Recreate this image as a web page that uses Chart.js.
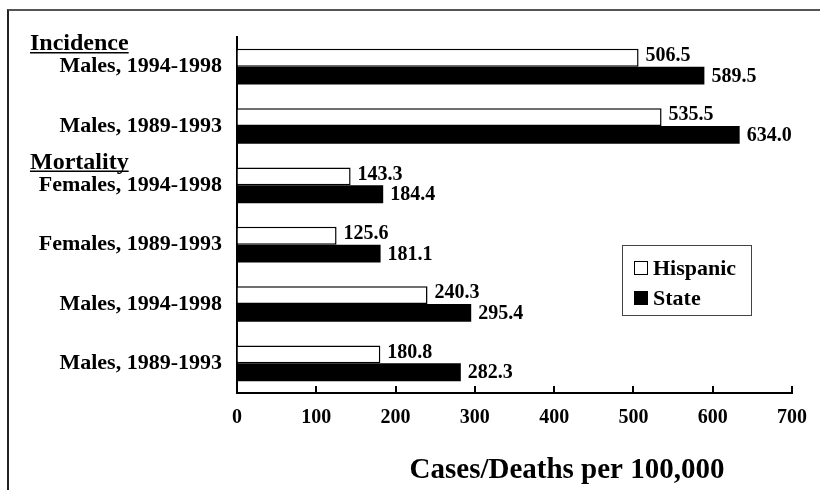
<!DOCTYPE html>
<html>
<head>
<meta charset="utf-8">
<script src="https://cdn.jsdelivr.net/npm/chart.js@4/dist/chart.umd.min.js"></script>
<style>
  body { margin: 0; background: #fff; }
  .wrap { position: relative; width: 820px; height: 490px; }
  .frame { position: absolute; left: 7px; top: 9px; right: 0; bottom: 0; border-left: 2px solid #222; border-top: 2px solid #555; }
  canvas { position: absolute; left: 0; top: 0; }
  .legend { position: absolute; left: 622px; top: 245px; width: 128px; height: 69px; border: 1.5px solid #444; color: #000; }
  .legend div { position: absolute; left: 11px; height: 24px; line-height: 24px; font-family: "Liberation Serif", "DejaVu Serif", serif; font-weight: bold; font-size: 22px; }
  .legend span { display: inline-block; width: 12px; height: 12px; border: 1.5px solid #000; margin-right: 5px; vertical-align: 0px; }
</style>
</head>
<body>
<div class="wrap">
  <div class="frame"></div>
  <canvas id="chart" width="820" height="490"></canvas>
  <div class="legend">
    <div style="top: 10px;"><span style="background:#fff"></span>Hispanic</div>
    <div style="top: 40px;"><span style="background:#000"></span>State</div>
  </div>
</div>
<script>
const categories = ['Males, 1994-1998', 'Males, 1989-1993', 'Females, 1994-1998', 'Females, 1989-1993', 'Males, 1994-1998', 'Males, 1989-1993'];
const hispanic = [506.5, 535.5, 143.3, 125.6, 240.3, 180.8];
const state = [589.5, 634.0, 184.4, 181.1, 295.4, 282.3];
const xTicks = [0, 100, 200, 300, 400, 500, 600, 700];
const sections = [{ label: 'Incidence', before: 0 }, { label: 'Mortality', before: 2 }];
const xTitle = 'Cases/Deaths per 100,000';

const serif = '"Liberation Serif", "Times New Roman", serif';

// value labels at bar ends, section headers, inward x ticks, axis title
const extras = {
  id: 'extras',
  afterDatasetsDraw(chart) {
    const ctx = chart.ctx;
    ctx.save();
    ctx.fillStyle = '#000';
    ctx.font = 'bold 20px ' + serif;
    ctx.textAlign = 'left';
    ctx.textBaseline = 'middle';
    chart.data.datasets.forEach((ds, i) => {
      chart.getDatasetMeta(i).data.forEach((bar, j) => {
        ctx.fillText(ds.data[j].toFixed(1), bar.x + 7, bar.y + (i === 0 ? -2 : 1));
      });
    });

    const x = chart.scales.x;
    const y = chart.scales.y;
    ctx.strokeStyle = '#000';
    ctx.lineWidth = 2;
    xTicks.forEach(v => {
      const px = Math.round(x.getPixelForValue(v));
      ctx.beginPath();
      ctx.moveTo(px, chart.chartArea.bottom);
      ctx.lineTo(px, chart.chartArea.bottom - 7);
      ctx.stroke();
    });

    ctx.font = 'bold 24px ' + serif;
    sections.forEach(s => {
      const py = y.getPixelForValue(s.before) - 23;
      ctx.fillText(s.label, 30, py);
      const w = ctx.measureText(s.label).width;
      ctx.lineWidth = 1.5;
      ctx.beginPath();
      ctx.moveTo(30, py + 9);
      ctx.lineTo(30 + w, py + 9);
      ctx.stroke();
    });

    ctx.font = 'bold 29px ' + serif;
    ctx.textAlign = 'center';
    ctx.textBaseline = 'alphabetic';
    ctx.fillText(xTitle, 567, 478);
    ctx.restore();
  }
};

new Chart(document.getElementById('chart'), {
  type: 'bar',
  data: {
    labels: categories,
    datasets: [
      {
        label: 'Hispanic',
        data: hispanic,
        backgroundColor: '#fff',
        borderColor: '#000',
        borderWidth: 1.5,
        barPercentage: 1,
        categoryPercentage: 0.6
      },
      {
        label: 'State',
        data: state,
        backgroundColor: '#000',
        borderWidth: 0,
        barPercentage: 1,
        categoryPercentage: 0.6
      }
    ]
  },
  options: {
    indexAxis: 'y',
    responsive: false,
    animation: false,
    layout: { padding: { top: 37, right: 23, bottom: 0, left: 0 } },
    plugins: {
      legend: { display: false },
      tooltip: { enabled: false }
    },
    scales: {
      x: {
        min: 0,
        max: 700,
        afterFit: s => { s.height = 97; },
        afterBuildTicks: s => { s.ticks = xTicks.map(v => ({ value: v })); },
        grid: { drawOnChartArea: false, drawTicks: false },
        border: { display: true, color: '#000', width: 2 },
        ticks: { padding: 13, color: '#000', font: { family: serif, size: 20, weight: 'bold' } }
      },
      y: {
        afterFit: s => { s.width = 237; },
        grid: { display: false, drawTicks: false },
        border: { display: true, color: '#000', width: 2 },
        ticks: { padding: 15, color: '#000', font: { family: serif, size: 22, weight: 'bold' } }
      }
    }
  },
  plugins: [extras]
});
</script>
</body>
</html>
